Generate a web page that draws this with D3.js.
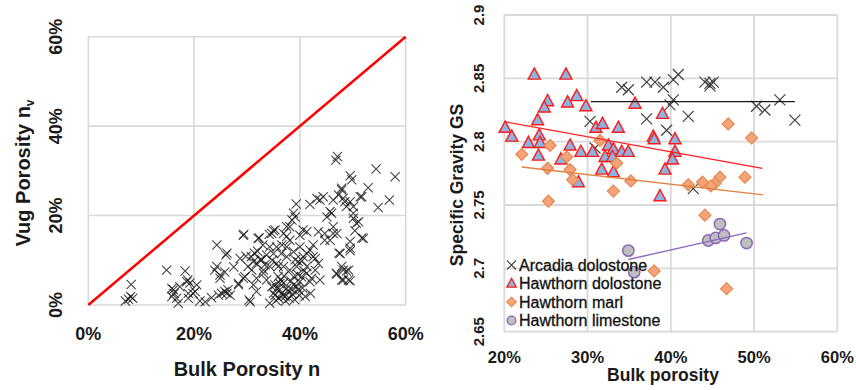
<!DOCTYPE html>
<html><head><meta charset="utf-8">
<script src="https://cdn.jsdelivr.net/npm/d3@7"></script>
<style>
html,body{margin:0;padding:0;background:#fff;}
svg{display:block;font-family:"Liberation Sans",Arial,sans-serif;}
</style></head>
<body><svg id="c" width="856" height="390"></svg>
<script>
// ---------- Left chart data: [bulk porosity %, vug porosity %] ----------
const vugPoints = [
[7.0,0.9],[8.1,4.6],[8.0,1.9],[7.6,1.3],[8.4,1.5],
[14.8,7.8],[18.3,7.6],[15.8,3.7],[16.2,2.6],[17.0,0.4],[17.3,4.1],[18.6,5.2],[18.8,5.6],[19.2,4.9],[20.5,4.5],
[20.2,3.0],[18.9,2.6],[16.1,3.4],[15.8,1.9],[16.7,1.5],[19.8,2.6],[18.9,1.5],[21.1,0.9],[22.1,0.7],[23.3,1.6],
[24.6,2.2],[25.8,3.0],[24.3,13.4],[26.0,11.2],[24.3,8.6],[23.9,7.8],[24.9,6.0],[26.4,3.4],[24.9,6.7],[25.2,2.6],
[26.8,2.2],[28.4,4.8],[29.3,15.6],[30.2,8.6],[29.6,6.3],[30.6,0.7],[31.2,4.5],[31.8,3.0],[32.1,14.9],[31.8,9.3],
[32.8,10.1],[33.1,7.1],[33.7,11.2],[34.3,8.6],[34.7,16.0],[35.3,16.8],[35.0,11.5],[35.6,9.3],[35.9,6.3],[34.3,0.4],
[35.3,2.2],[39.3,22.6],[41.9,22.5],[43.2,23.8],[43.8,23.5],[44.4,24.2],[29.4,15.8],[32.3,15.0],[34.2,15.8],[35.0,16.6],
[26.2,11.6],[25.8,7.4],[26.2,2.6],[30.4,1.1],[36.6,13.4],[37.5,15.3],[38.1,17.5],[38.5,19.0],[39.1,19.7],[31.2,9.7],
[32.5,10.1],[30.9,7.8],[33.1,7.8],[29.3,6.0],[28.4,4.5],[31.8,6.0],[33.7,5.6],[35.9,8.6],[37.5,10.8],[38.8,11.9],
[40.0,13.0],[40.6,10.8],[39.4,8.6],[41.3,7.1],[35.3,4.5],[36.2,3.4],[37.5,3.7],[38.5,3.4],[36.9,4.9],[35.0,2.6],
[39.7,3.4],[41.0,1.9],[37.2,1.9],[47.1,33.2],[46.8,32.4],[54.4,30.4],[58.0,28.7],[49.5,28.9],[49.8,28.0],[52.9,26.2],
[51.7,24.2],[56.9,23.5],[54.8,21.8],[47.9,26.1],[47.3,24.6],[46.3,23.5],[48.2,23.9],[49.5,23.1],[48.8,22.0],[50.1,20.5],
[50.7,18.3],[50.1,19.4],[45.7,20.9],[45.1,19.7],[46.3,17.5],[47.0,16.0],[44.7,16.0],[49.5,14.2],[51.7,15.0],[49.5,12.1],
[47.4,11.6],[47.9,8.6],[48.8,7.6],[47.0,6.9],[48.2,5.6],[49.5,5.4],[43.8,5.6],[41.9,5.2],[42.5,13.4],[41.3,16.4],
[43.5,16.4],[42.9,10.4],[34.7,4.1],[35.6,3.7],[36.2,4.8],[36.5,2.6],[37.8,3.0],[38.8,4.5],[39.4,4.1],[40.0,5.2],
[40.3,6.3],[40.8,7.6],[41.3,8.6],[40.4,9.9],[39.7,9.7],[39.1,10.1],[41.3,11.5],[41.9,12.3],[42.5,10.8],[43.5,9.3],
[42.9,7.8],[42.2,6.0],[36.9,16.0],[37.5,17.5],[38.8,20.5],[38.1,14.5],[37.5,13.0],[36.5,11.5],[35.6,13.0],[34.3,13.0],
[36.9,8.6],[38.1,7.8],[38.8,6.3],[40.0,15.6],[40.6,16.8],[44.7,14.5],[46.0,20.5],[47.9,25.7],[48.5,23.1],[50.1,22.0],
[51.1,18.6],[51.4,24.2],[52.0,14.9],[46.9,7.1],[47.6,11.5],[48.2,7.8],[49.2,7.8],[49.2,5.6],[47.9,5.6],[49.5,12.7],
[46.3,16.0],[45.7,14.5],[35.5,1.0],[36.0,1.5],[36.8,2.2],[37.3,0.9],[38.0,1.5],[38.6,2.4],[39.0,1.2],[36.4,5.6],
[37.0,6.5],[38.3,5.4],[39.6,6.8],[40.5,3.8],[39.9,2.2],[30.8,10.8],[32.0,12.0],[33.4,9.0],[34.8,10.0],[31.4,11.6],
[33.0,13.4],[27.5,8.5],[28.7,10.4],[29.8,10.9],[42.0,2.6],[50.4,16.6]
];
const leftTicks = [0, 20, 40, 60];
const equalityLine = [[0,0],[60,60]];

// ---------- Right chart data: [bulk porosity %, specific gravity] ----------
const arcadiaDolostone = [
[34.1,2.843],[34.9,2.841],[37.1,2.847],[38.1,2.847],[39.1,2.843],[30.3,2.816],[37.1,2.818],[39.5,2.809],[30.9,2.795],
[40.9,2.853],[40.3,2.849],[44.1,2.847],[44.7,2.846],[45.1,2.847],[44.7,2.844],[40.3,2.833],[39.9,2.829],[42.1,2.820],
[50.3,2.828],[51.3,2.825],[53.1,2.833],[54.9,2.817],[42.7,2.763]
];
const hawthornDolostone = [
[23.6,2.853],[27.4,2.853],[28.7,2.836],[25.2,2.832],[24.8,2.827],[27.6,2.831],[29.8,2.828],[35.7,2.830],[39.0,2.822],
[24.0,2.817],[20.1,2.811],[20.9,2.804],[24.2,2.805],[22.9,2.799],[24.3,2.799],[24.1,2.789],[27.9,2.797],[26.8,2.786],
[29.2,2.792],[30.6,2.792],[31.0,2.811],[31.8,2.814],[33.7,2.811],[32.5,2.797],[33.1,2.794],[34.1,2.792],[34.9,2.792],
[32.1,2.788],[33.0,2.788],[31.7,2.778],[33.1,2.776],[28.9,2.768],[37.9,2.804],[38.0,2.802],[40.5,2.802],[40.5,2.792],
[40.2,2.786],[39.3,2.778],[38.7,2.757]
];
const hawthornMarl = [
[22.1,2.790],[25.2,2.779],[25.5,2.797],[27.5,2.788],[27.9,2.778],[28.2,2.770],[25.3,2.753],[31.5,2.801],[33.5,2.783],
[33.1,2.761],[35.2,2.769],[46.9,2.814],[49.7,2.803],[48.9,2.772],[45.9,2.772],[45.3,2.767],[44.8,2.765],[43.8,2.768],
[42.1,2.766],[44.1,2.742],[46.7,2.684],[38.0,2.698]
];
const hawthornLimestone = [
[34.9,2.714],[35.6,2.697],[44.5,2.722],[45.4,2.724],[46.4,2.726],[45.9,2.735],[49.1,2.720]
];
// trend lines (end points)
const arcadiaTrend = [[30.4,2.8316],[54.9,2.8316]];
const dolostoneTrend = [[20.0,2.8158],[51.0,2.779]];
const marlTrend = [[22.1,2.780],[51.1,2.758]];
const limestoneTrend = [[34.9,2.707],[49.1,2.728]];
const rightXTicks = [20, 30, 40, 50, 60];
const rightYTicks = [2.65, 2.7, 2.75, 2.8, 2.85, 2.9];
const legendLabels = ["Arcadia dolostone","Hawthorn dolostone","Hawthorn marl","Hawthorn limestone"];

const svg = d3.select("#c");
const gridColor = "#d9d9d9";

// ================= LEFT CHART =================
const lx = d3.scaleLinear().domain([0,60]).range([88.3,405.7]);
const ly = d3.scaleLinear().domain([0,60]).range([305,36.7]);
const L = svg.append("g");
L.selectAll("line.gx").data(leftTicks).join("line")
  .attr("x1",d=>lx(d)).attr("x2",d=>lx(d)).attr("y1",ly(60)).attr("y2",ly(0))
  .attr("stroke",gridColor).attr("stroke-width",1.6);
L.selectAll("line.gy").data(leftTicks).join("line").attr("class","gy")
  .attr("x1",lx(0)).attr("x2",lx(60)).attr("y1",d=>ly(d)).attr("y2",d=>ly(d))
  .attr("stroke",gridColor).attr("stroke-width",1.6);

const xPath = (s) => `M${-s},${-s}L${s},${s}M${-s},${s}L${s},${-s}`;
L.selectAll("path.pt").data(vugPoints).join("path").attr("class","pt")
  .attr("transform",d=>`translate(${lx(d[0])},${ly(d[1])})`)
  .attr("d",xPath(4.6)).attr("fill","none").attr("stroke","#111")
  .attr("stroke-width",1.05).attr("stroke-opacity",0.8);

L.append("path").datum(equalityLine)
  .attr("d",d3.line().x(d=>lx(d[0])).y(d=>ly(d[1])))
  .attr("stroke","#ff0000").attr("stroke-width",2.5).attr("fill","none");

L.selectAll("text.xt").data(leftTicks).join("text").attr("class","xt")
  .attr("x",d=>lx(d)).attr("y",339.5).attr("text-anchor","middle")
  .attr("font-size",18).attr("font-weight","bold").attr("fill","#1a1a1a").text(d=>d+"%");
L.selectAll("text.yt").data(leftTicks).join("text").attr("class","yt")
  .attr("transform",d=>`translate(61.5,${ly(d)}) rotate(-90)`).attr("text-anchor","middle")
  .attr("font-size",18).attr("font-weight","bold").attr("fill","#1a1a1a").text(d=>d+"%");
L.append("text").attr("x",247).attr("y",375.5).attr("text-anchor","middle")
  .attr("font-size",20).attr("font-weight","bold").attr("fill","#1a1a1a").text("Bulk Porosity n");
const yt = L.append("text").attr("transform","translate(30,173) rotate(-90)").attr("text-anchor","middle")
  .attr("font-size",20).attr("font-weight","bold").attr("fill","#1a1a1a");
yt.append("tspan").text("Vug Porosity n");
yt.append("tspan").attr("font-size",12).attr("dy",4).text("v");

// ================= RIGHT CHART =================
const rx = d3.scaleLinear().domain([20,60]).range([504.3,837.3]);
const ry = d3.scaleLinear().domain([2.65,2.9]).range([331.7,15]);
const R = svg.append("g");
R.selectAll("line.gx").data(rightXTicks).join("line").attr("class","gx")
  .attr("x1",d=>rx(d)).attr("x2",d=>rx(d)).attr("y1",ry(2.9)).attr("y2",ry(2.65))
  .attr("stroke",gridColor).attr("stroke-width",1.8);
R.selectAll("line.gy").data(rightYTicks).join("line").attr("class","gy")
  .attr("x1",rx(20)).attr("x2",rx(60)).attr("y1",d=>ry(d)).attr("y2",d=>ry(d))
  .attr("stroke",gridColor).attr("stroke-width",1.8);

const triPath = (w) => `M0,${-w*0.55}L${w/2},${w*0.38}L${-w/2},${w*0.38}Z`;
const diaPath = (s) => `M0,${-s}L${s},0L0,${s}L${-s},0Z`;

function drawSeries(g, data, kind){
  const sel = g.append("g").selectAll("path").data(data).join("path")
    .attr("transform",d=>`translate(${rx(d[0])},${ry(d[1])})`);
  if(kind===0) sel.attr("d",xPath(5.5)).attr("fill","none").attr("stroke","#404040").attr("stroke-width",1.2);
  if(kind===1) sel.attr("d",triPath(12)).attr("fill","#8db3e2").attr("stroke","#ff1a1a").attr("stroke-width",1.4);
  if(kind===2) sel.attr("d",diaPath(6)).attr("fill","#f4a478").attr("stroke","#e5874f").attr("stroke-width",1.2);
  if(kind===3) sel.attr("d",d3.symbol(d3.symbolCircle,100)()).attr("fill","#bfbfbf").attr("stroke","#8a66b8").attr("stroke-width",1.5);
}
drawSeries(R, arcadiaDolostone, 0);
drawSeries(R, hawthornDolostone, 1);
drawSeries(R, hawthornMarl, 2);
drawSeries(R, hawthornLimestone, 3);

const rline = d3.line().x(d=>rx(d[0])).y(d=>ry(d[1]));
[[arcadiaTrend,"#1a1a1a"],[dolostoneTrend,"#ff2020"],[marlTrend,"#e0823f"],[limestoneTrend,"#8a66c0"]]
 .forEach(([d,c])=>R.append("path").datum(d).attr("d",rline).attr("stroke",c).attr("stroke-width",1.3).attr("fill","none"));

R.selectAll("text.xt").data(rightXTicks).join("text").attr("class","xt")
  .attr("x",d=>rx(d)).attr("y",363).attr("text-anchor","middle")
  .attr("font-size",16.5).attr("font-weight","bold").attr("fill","#1a1a1a").text(d=>d+"%");
R.selectAll("text.yt").data(rightYTicks).join("text").attr("class","yt")
  .attr("transform",d=>`translate(484,${ry(d)}) rotate(-90)`).attr("text-anchor","middle")
  .attr("font-size",15).attr("font-weight","bold").attr("fill","#1a1a1a").text(d=>String(d));
R.append("text").attr("x",663).attr("y",381).attr("text-anchor","middle")
  .attr("font-size",17.5).attr("font-weight","bold").attr("fill","#1a1a1a").text("Bulk porosity");
R.append("text").attr("transform","translate(462.5,185) rotate(-90)").attr("text-anchor","middle")
  .attr("font-size",17.5).attr("font-weight","bold").attr("fill","#1a1a1a").text("Specific Gravity GS");

// legend
const legY = [265, 283.5, 302, 320.5];
const lg = R.append("g");
legendLabels.forEach((t,i)=>{
  const mk = lg.append("path").attr("transform",`translate(511.5,${legY[i]})`);
  if(i===0) mk.attr("d",xPath(4.5)).attr("fill","none").attr("stroke","#404040").attr("stroke-width",1.2);
  if(i===1) mk.attr("d",triPath(9.5)).attr("fill","#8db3e2").attr("stroke","#ff1a1a").attr("stroke-width",1.3);
  if(i===2) mk.attr("d",diaPath(4.8)).attr("fill","#f4a478").attr("stroke","#e5874f").attr("stroke-width",1.1);
  if(i===3) mk.attr("d",d3.symbol(d3.symbolCircle,60)()).attr("fill","#bfbfbf").attr("stroke","#8a66b8").attr("stroke-width",1.3);
  lg.append("text").attr("x",519).attr("y",legY[i]+5.6).attr("font-size",16)
    .attr("fill","#111").attr("stroke","#111").attr("stroke-width",0.3).text(t);
});
</script></body></html>
